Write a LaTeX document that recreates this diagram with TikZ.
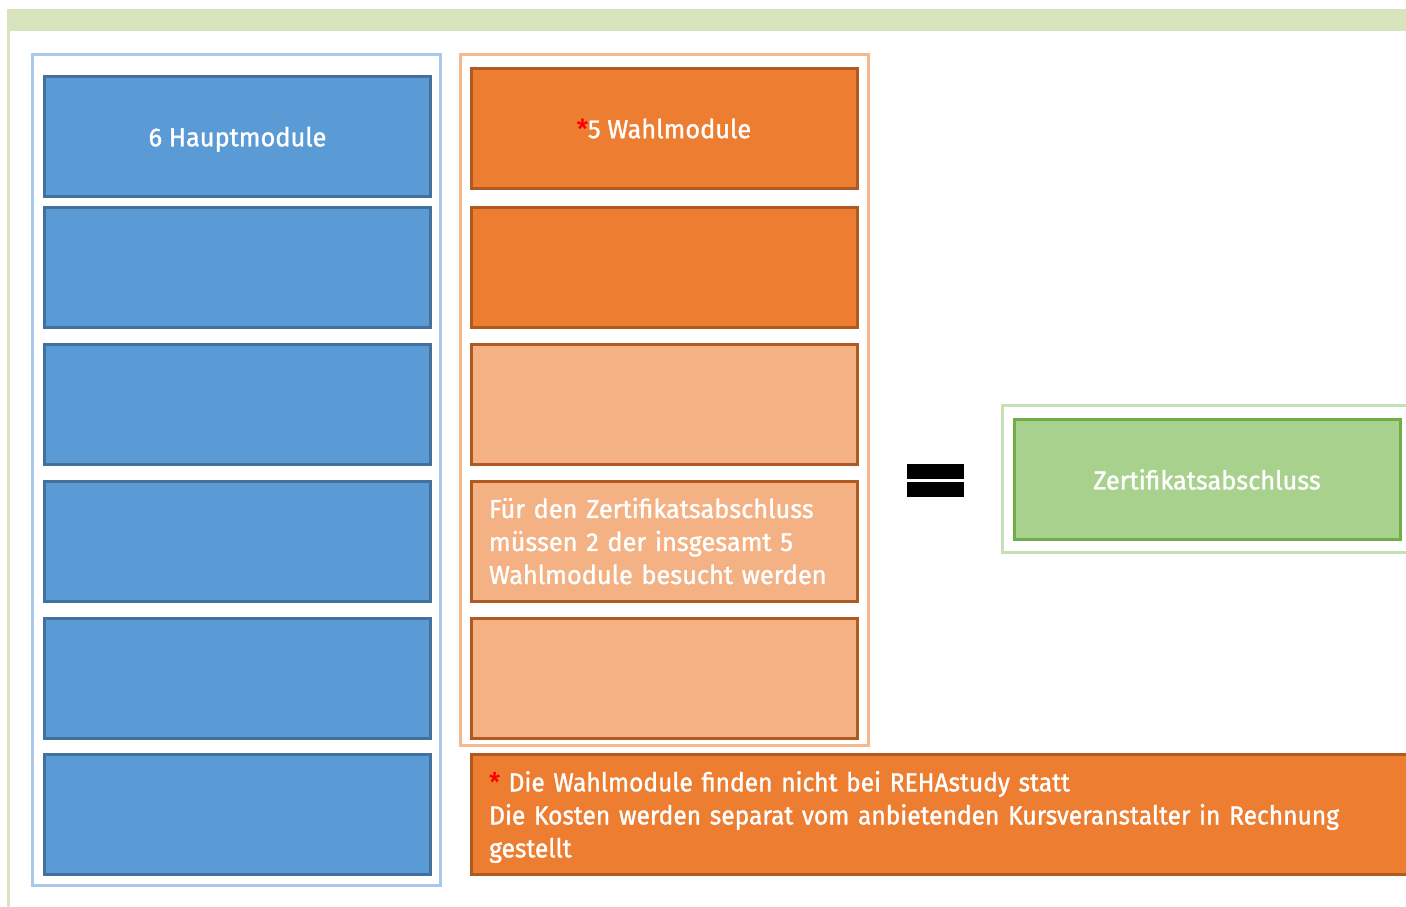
\documentclass[tikz,border=0pt]{standalone}
\usepackage{fontspec}
\setmainfont{Fira Sans}[FakeBold=1.3, FakeStretch=0.975]
\newfontfamily\notefont{Fira Sans}[FakeBold=1.3, FakeStretch=0.945]
\definecolor{barG}{HTML}{D7E4BD}
\definecolor{bFill}{HTML}{5B9BD5}
\definecolor{bLine}{HTML}{41719C}
\definecolor{bFrame}{HTML}{A9C9EC}
\definecolor{oFill}{HTML}{ED7D31}
\definecolor{oLine}{HTML}{AE5A21}
\definecolor{oLight}{HTML}{F4B183}
\definecolor{oFrame}{HTML}{F6B98E}
\definecolor{gFill}{HTML}{A9D18E}
\definecolor{gLine}{HTML}{70AD47}
\definecolor{gFrame}{HTML}{C5E0B4}
\definecolor{redStar}{HTML}{FF0000}
\tikzset{
  every node/.style={font=\fontsize{26}{33}\selectfont, text=white, inner sep=0pt},
  modbox/.style={draw, line width=3pt, minimum width=386pt, minimum height=120pt},
  bluebox/.style={modbox, fill=bFill, draw=bLine},
  orabox/.style={modbox, fill=oFill, draw=oLine},
  lightbox/.style={modbox, fill=oLight, draw=oLine},
  greenbox/.style={modbox, fill=gFill, draw=gLine},
  frame/.style={draw, line width=3pt, fill=none},
  eqbar/.style={fill=black, minimum width=57pt, minimum height=15pt, draw=none}
}
\begin{document}
\begin{tikzpicture}[x=1pt,y=-1pt]
\useasboundingbox (0,0) rectangle (1406,907);
\clip (0,0) rectangle (1406,907);
\fill[white] (0,0) rectangle (1406,907);
% top bar and left line
\fill[barG] (7,9) rectangle (1406,31);
\fill[barG] (7,31) rectangle (9.5,907);
% frames
\node[frame, draw=bFrame, minimum width=408pt, minimum height=830pt] (bframe) at (236,470) {};
\node[frame, draw=oFrame, minimum width=408pt, minimum height=690pt] (oframe) at (664,400) {};
\node[frame, draw=gFrame, minimum width=420pt, minimum height=147pt] (gframe) at (1212,478.5) {};
% blue boxes
\node[bluebox, text depth=0pt] (h1) at (237.5,136.5) {6 Hauptmodule};
\node[bluebox] (h2) at (237.5,267) {};
\node[bluebox] (h3) at (237.5,404) {};
\node[bluebox] (h4) at (237.5,541) {};
\node[bluebox] (h5) at (237.5,678) {};
\node[bluebox] (h6) at (237.5,814) {};
% orange boxes
\node[orabox] (w1) at (664,128.5) {\textcolor{redStar}{*}5 Wahlmodule};
\node[orabox] (w2) at (664,267) {};
\node[lightbox] (w3) at (664,404) {};
\node[lightbox, text width=350pt, align=left, inner xsep=18pt] (w4) at (664,541) {Für den Zertifikatsabschluss\\müssen 2 der insgesamt 5\\Wahlmodule besucht werden};
\node[lightbox] (w5) at (664,678) {};
% equals
\node[eqbar] (eqa) at (935.5,471.5) {};
\node[eqbar] (eqb) at (935.5,489.5) {};
% green box
\node[greenbox] (z) at (1207,479.5) {Zertifikatsabschluss};
% bottom note
\node[orabox, minimum width=950pt] (note) at (946,814) {};
\node[text width=914pt, align=left, font=\notefont\fontsize{26}{33}\selectfont, anchor=west] (notetext) at (489,817) {\textcolor{redStar}{*} Die Wahlmodule finden nicht bei REHAstudy statt\\Die Kosten werden separat vom anbietenden Kursveranstalter in Rechnung\\gestellt};
\end{tikzpicture}
\end{document}
